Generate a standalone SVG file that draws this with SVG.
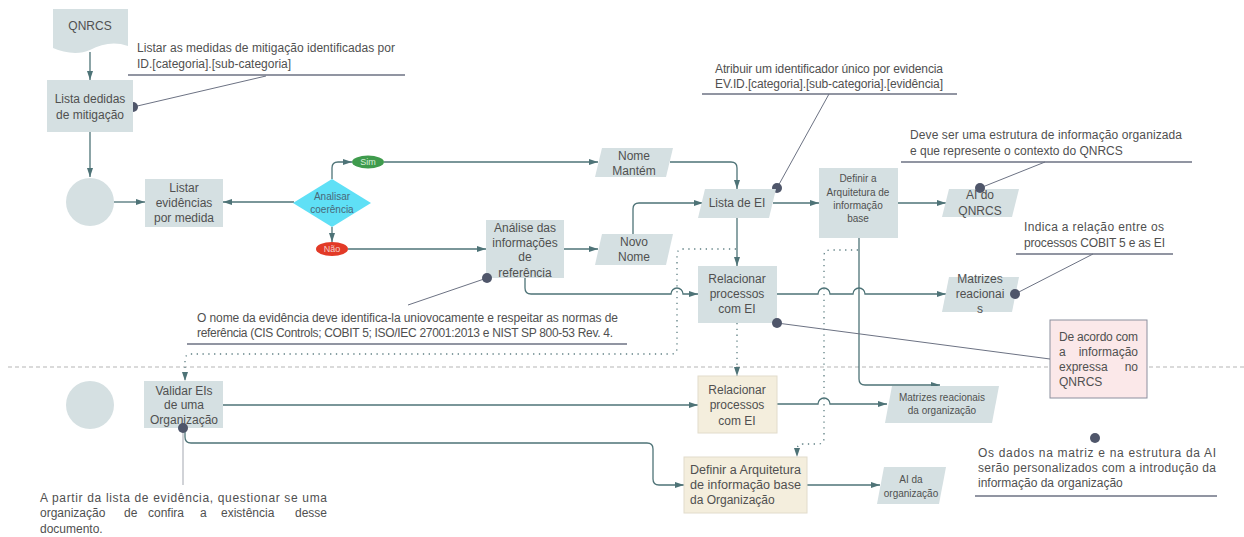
<svg xmlns="http://www.w3.org/2000/svg" width="1244" height="537" viewBox="0 0 1244 537">
<style>
text{font-family:"Liberation Sans",Arial,sans-serif;fill:#505050}
.t12{font-size:12px}
.t11{font-size:11px}
.t10{font-size:10px}
.t9{font-size:9px}
.mid{text-anchor:middle}
.end{text-anchor:end}
.box{fill:#d5e0e2}
.org{fill:#f4eedd;stroke:#e2dccb;stroke-width:1}
.conn{fill:none;stroke:#4e7377;stroke-width:1.3}
.dotted{fill:none;stroke:#5e7f83;stroke-width:1.3;stroke-dasharray:1.3,4.5}
.ann{fill:none;stroke:#6c7283;stroke-width:1}
.ul{fill:none;stroke:#6c7283;stroke-width:1.6}
.dot{fill:#4f566a}
.sep{fill:none;stroke:#b5b5b5;stroke-width:1;stroke-dasharray:4,3}
</style>
<defs>
<marker id="ah" markerWidth="9" markerHeight="6" refX="9" refY="3" orient="auto" markerUnits="userSpaceOnUse">
<path d="M0,0 L9,3 L0,6 Z" fill="#4e7377"/>
</marker>
</defs>
<rect width="1244" height="537" fill="#ffffff"/>
<path class="sep" d="M8,367 H1244"/>

<g id="annotations-under">
<path class="ann" d="M266,76 L133,107"/>
<circle class="dot" cx="133" cy="107" r="5"/>
<path class="ann" d="M829,94 L777,188"/>
<circle class="dot" cx="777" cy="188" r="5"/>
</g>

<g id="connectors">
<path class="conn" d="M90,52 V80" marker-end="url(#ah)"/>
<path class="conn" d="M90,132 V177" marker-end="url(#ah)"/>
<path class="conn" d="M114,202 H145" marker-end="url(#ah)"/>
<path class="conn" d="M294,202 H223" marker-end="url(#ah)"/>
<path class="conn" d="M332,179 V168 Q332,162 338,162 H352" marker-end="url(#ah)"/>
<path class="conn" d="M384,162 H598" marker-end="url(#ah)"/>
<path class="conn" d="M670,162 H731 Q737,162 737,168 V189" marker-end="url(#ah)"/>
<path class="conn" d="M332,227 V242" marker-end="url(#ah)"/>
<path class="conn" d="M348,249 H486" marker-end="url(#ah)"/>
<path class="conn" d="M564,249 H598" marker-end="url(#ah)"/>
<path class="conn" d="M633,234 V209 Q633,203 639,203 H703" marker-end="url(#ah)"/>
<path class="conn" d="M773,203 H819" marker-end="url(#ah)"/>
<path class="conn" d="M898,203 H946" marker-end="url(#ah)"/>
<path class="conn" d="M737,218 V266" marker-end="url(#ah)"/>
<path class="conn" d="M525,278 V288 Q525,294 531,294 H671 A6,6 0 0 1 683,294 H698" marker-end="url(#ah)"/>
<path class="conn" d="M777,294 H818 A6,6 0 0 1 830,294 H853 A6,6 0 0 1 865,294 H946" marker-end="url(#ah)"/>
<path class="conn" d="M859,238 V379 Q859,385 865,385 H940" marker-end="url(#ah)"/>
<path class="conn" d="M223,405 H698" marker-end="url(#ah)"/>
<path class="conn" d="M777,404 H818 A6,6 0 0 1 830,404 H887" marker-end="url(#ah)"/>
<path class="conn" d="M185,428 V437 Q185,443 191,443 H647 Q653,443 653,449 V479 Q653,485 659,485 H684" marker-end="url(#ah)"/>
<path class="conn" d="M807,485 H880" marker-end="url(#ah)"/>
<path class="dotted" d="M736,249 H683 Q677,249 677,255 V348 Q677,354 671,354 H191 Q185,354 185,360 V381" marker-end="url(#ah)"/>
<path class="dotted" d="M858,250 H830 Q824,250 824,256 V438 Q824,444 818,444 H803 Q797,444 797,450 V457" marker-end="url(#ah)"/>
<path class="dotted" d="M737,323 V376" marker-end="url(#ah)"/>
</g>

<g id="qnrcs">
<path class="box" d="M53,9 H128 V46 C114,41 102,44 90,50 C79,55 64,53 53,48 Z"/>
<text class="t12 mid" x="90" y="30">QNRCS</text>
</g>
<g id="lista-medidas">
<rect class="box" x="47" y="80" width="86" height="52"/>
<text class="t12 mid" x="90" y="103">Lista dedidas</text>
<text class="t12 mid" x="90" y="119">de mitigação</text>
</g>
<g id="start1">
<circle cx="90" cy="202" r="24" fill="#d5e0e2"/>
</g>
<g id="listar-evidencias">
<rect class="box" x="145" y="179" width="78" height="48"/>
<text class="t12 mid" x="184" y="192">Listar</text>
<text class="t12 mid" x="184" y="207">evidências</text>
<text class="t12 mid" x="184" y="222">por medida</text>
</g>
<g id="analisar">
<path d="M293,203 L332,179 L371,203 L332,227 Z" fill="#5fe0f6"/>
<text class="t10 mid" x="332" y="200" style="fill:#4a6878">Analisar</text>
<text class="t10 mid" x="332" y="213" style="fill:#4a6878">coerência</text>
</g>
<g id="sim">
<ellipse cx="368" cy="162" rx="16" ry="6.5" fill="#3f9b4d"/>
<text class="t9 mid" x="368" y="165" style="fill:#d8eedb">Sim</text>
</g>
<g id="nao">
<ellipse cx="332" cy="249" rx="16" ry="7" fill="#e23a27"/>
<text class="t9 mid" x="332" y="252" style="fill:#f6cfc9">Não</text>
</g>
<g id="nome-mantem">
<path class="box" d="M602,148 H673 L666,177 H595 Z"/>
<text class="t12 mid" x="634" y="160">Nome</text>
<text class="t12 mid" x="634" y="175">Mantém</text>
</g>
<g id="analise">
<rect class="box" x="486" y="220" width="78" height="58"/>
<text class="t12 mid" x="525" y="232">Análise das</text>
<text class="t12 mid" x="525" y="247">informações</text>
<text class="t12 mid" x="525" y="261">de</text>
<text class="t12 mid" x="525" y="277">referência</text>
</g>
<g id="novo-nome">
<path class="box" d="M602,234 H673 L666,265 H595 Z"/>
<text class="t12 mid" x="634" y="246">Novo</text>
<text class="t12 mid" x="634" y="261">Nome</text>
</g>
<g id="lista-ei">
<path class="box" d="M705,189 H776 L769,218 H698 Z"/>
<text class="t12 mid" x="737" y="207">Lista de EI</text>
</g>
<g id="definir">
<rect class="box" x="819" y="168" width="79" height="70"/>
<text class="t10 mid" x="858" y="182">Definir a</text>
<text class="t10 mid" x="858" y="196">Arquitetura de</text>
<text class="t10 mid" x="858" y="209">informação</text>
<text class="t10 mid" x="858" y="222">base</text>
</g>
<g id="ai-qnrcs">
<path class="box" d="M949,189 H1019 L1012,217 H942 Z"/>
<text class="t12 mid" x="980" y="199">AI do</text>
<text class="t12 mid" x="980" y="215">QNRCS</text>
</g>
<g id="relacionar">
<rect class="box" x="698" y="266" width="79" height="57"/>
<text class="t12 mid" x="737" y="283">Relacionar</text>
<text class="t12 mid" x="737" y="298">processos</text>
<text class="t12 mid" x="737" y="313">com EI</text>
</g>
<g id="matrizes">
<path class="box" d="M949,277 H1019 L1012,312 H942 Z"/>
<text class="t12 mid" x="980" y="283">Matrizes</text>
<text class="t12 mid" x="980" y="298">reacionai</text>
<text class="t12 mid" x="980" y="313">s</text>
</g>
<g id="nota-qnrcs">
<rect x="1050" y="320" width="97" height="78" fill="#fbe8e9" stroke="#8c8f9e" stroke-width="1"/>
<text class="t12" x="1059" y="341" textLength="79" lengthAdjust="spacing">De acordo com</text>
<text class="t12" x="1059" y="356">a</text>
<text class="t12 end" x="1138" y="356">informação</text>
<text class="t12" x="1059" y="371">expressa</text>
<text class="t12 end" x="1138" y="371">no</text>
<text class="t12" x="1059" y="386">QNRCS</text>
</g>
<g id="start2">
<circle cx="90" cy="405" r="24" fill="#d5e0e2"/>
</g>
<g id="validar">
<rect class="box" x="144" y="381" width="79" height="47"/>
<text class="t12 mid" x="184" y="395">Validar EIs</text>
<text class="t12 mid" x="184" y="409">de uma</text>
<text class="t12 mid" x="184" y="424">Organização</text>
</g>
<g id="relacionar-org">
<rect class="org" x="698" y="376" width="79" height="57"/>
<text class="t12 mid" x="737" y="394">Relacionar</text>
<text class="t12 mid" x="737" y="409">processos</text>
<text class="t12 mid" x="737" y="425">com EI</text>
</g>
<g id="matrizes-org">
<path class="box" d="M892,386 H999 L992,423 H885 Z"/>
<text class="t10 mid" x="942" y="401">Matrizes reacionais</text>
<text class="t10 mid" x="942" y="414">da organização</text>
</g>
<g id="definir-org">
<rect class="org" x="684" y="457" width="123" height="56"/>
<text class="t12" x="690" y="474" textLength="111" lengthAdjust="spacingAndGlyphs">Definir a Arquitetura</text>
<text class="t12" x="690" y="489" textLength="111" lengthAdjust="spacingAndGlyphs">de informação base</text>
<text class="t12" x="690" y="504">da Organização</text>
</g>
<g id="ai-org">
<path class="box" d="M884,467 H946 L939,504 H877 Z"/>
<text class="t10 mid" x="911" y="483">AI da</text>
<text class="t10 mid" x="911" y="497">organização</text>
</g>

<g id="annotations">
<text class="t12" x="137" y="52" textLength="258" lengthAdjust="spacing">Listar as medidas de mitigação identificadas por</text>
<text class="t12" x="137" y="68">ID.[categoria].[sub-categoria]</text>
<path class="ul" d="M128,75 H405"/>

<text class="t12" x="715" y="73" textLength="228" lengthAdjust="spacing">Atribuir um identificador único por evidencia</text>
<text class="t12" x="715" y="88" textLength="228" lengthAdjust="spacing">EV.ID.[categoria].[sub-categoria].[evidência]</text>
<path class="ul" d="M702,94 H957"/>

<text class="t12" x="910" y="139" textLength="272" lengthAdjust="spacing">Deve ser uma estrutura de informação organizada</text>
<text class="t12" x="910" y="155">e que represente o contexto do QNRCS</text>
<path class="ul" d="M901,162 H1192"/>
<path class="ann" d="M1045,162 L980,188"/>
<circle class="dot" cx="980" cy="188" r="5"/>

<text class="t12" x="1024" y="231" textLength="140" lengthAdjust="spacing">Indica a relação entre os</text>
<text class="t12" x="1024" y="247" textLength="141" lengthAdjust="spacing">processos COBIT 5 e as EI</text>
<path class="ul" d="M1016,254 H1173"/>
<path class="ann" d="M1093,254 L1015,294"/>
<circle class="dot" cx="1015" cy="294" r="5"/>

<text class="t12" x="197" y="322" textLength="421" lengthAdjust="spacing">O nome da evidência deve identifica-la uniovocamente e respeitar as normas de</text>
<text class="t12" x="197" y="337" textLength="416" lengthAdjust="spacing">referência (CIS Controls; COBIT 5; ISO/IEC 27001:2013 e NIST SP 800-53 Rev. 4.</text>
<path class="ul" d="M187,344 H627"/>
<path class="ann" d="M408,305 L487,278"/>
<circle class="dot" cx="487" cy="278" r="5"/>

<path class="ann" d="M777,323 L1050,359"/>
<circle class="dot" cx="777" cy="323" r="5"/>

<path class="ann" d="M183,428 V485" style="stroke:#a3a7b0"/>
<circle class="dot" cx="183" cy="428" r="5"/>
<text class="t12" x="40" y="502" textLength="287" lengthAdjust="spacing">A partir da lista de evidência, questionar se uma</text>
<text class="t12" x="40" y="517">organização</text>
<text class="t12" x="124" y="517">de</text>
<text class="t12" x="148" y="517">confira</text>
<text class="t12" x="200" y="517">a</text>
<text class="t12" x="221" y="517">existência</text>
<text class="t12 end" x="327" y="517">desse</text>
<text class="t12" x="40" y="533">documento.</text>

<circle class="dot" cx="1095" cy="438" r="5"/>
<text class="t12" x="978" y="457" textLength="238" lengthAdjust="spacing">Os dados na matriz e na estrutura da AI</text>
<text class="t12" x="978" y="472" textLength="238" lengthAdjust="spacing">serão personalizados com a introdução da</text>
<text class="t12" x="978" y="487">informação da organização</text>
<path class="ul" d="M975,496 H1217"/>
</g>
</svg>
